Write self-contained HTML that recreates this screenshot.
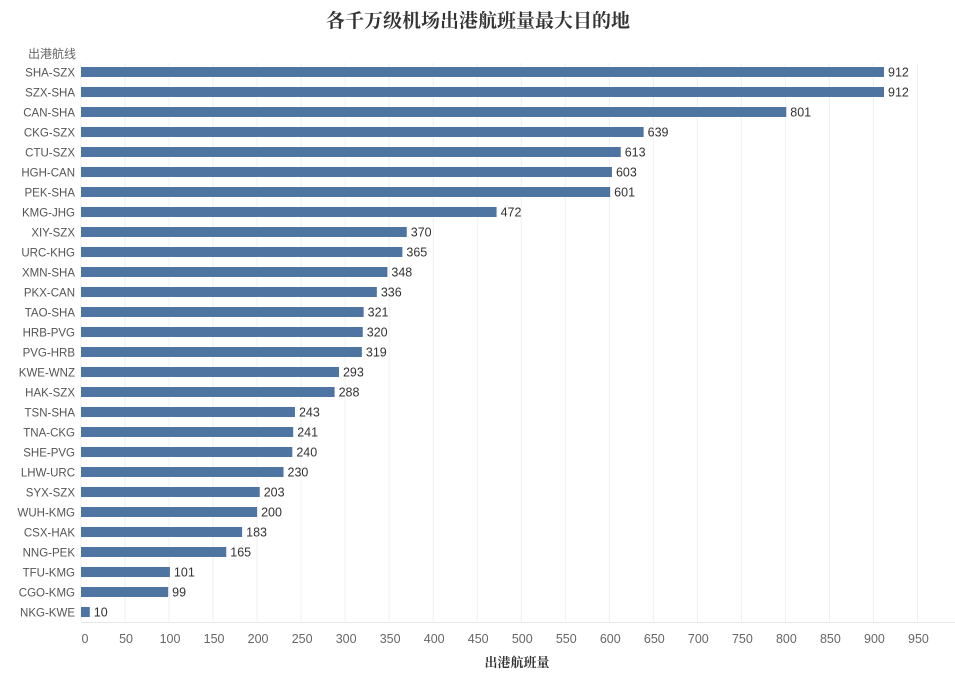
<!DOCTYPE html>
<html><head><meta charset="utf-8">
<style>
body{margin:0;background:#fff;width:955px;height:678px;overflow:hidden}
svg text{font-family:"Liberation Sans","Noto Sans CJK SC",sans-serif}
</style></head><body>
<svg id="chart" width="955" height="678" xmlns="http://www.w3.org/2000/svg">
<text x="478" y="27" text-anchor="middle" font-size="19" font-weight="bold" fill="#333" style="font-family:'Noto Serif CJK SC',serif">各千万级机场出港航班量最大目的地</text>
<text x="28" y="58" font-size="12" fill="#666">出港航线</text>
<text x="517" y="667" text-anchor="middle" font-size="13" font-weight="bold" fill="#333" style="font-family:'Noto Serif CJK SC',serif">出港航班量</text>
<g id="grid"></g><g id="bars"></g><g id="xticks"></g>
</svg>
<script>
const categories=["SHA-SZX","SZX-SHA","CAN-SHA","CKG-SZX","CTU-SZX","HGH-CAN","PEK-SHA","KMG-JHG","XIY-SZX","URC-KHG","XMN-SHA","PKX-CAN","TAO-SHA","HRB-PVG","PVG-HRB","KWE-WNZ","HAK-SZX","TSN-SHA","TNA-CKG","SHE-PVG","LHW-URC","SYX-SZX","WUH-KMG","CSX-HAK","NNG-PEK","TFU-KMG","CGO-KMG","NKG-KWE"];
const values=[912,912,801,639,613,603,601,472,370,365,348,336,321,320,319,293,288,243,241,240,230,203,200,183,165,101,99,10];
const tickLabels=[0,50,100,150,200,250,300,350,400,450,500,550,600,650,700,750,800,850,900,950];
const NS="http://www.w3.org/2000/svg";
const x=v=>81+v*0.8805;
const y=i=>72+i*20;
function mk(t,a,p){const e=document.createElementNS(NS,t);for(const k in a)e.setAttribute(k,a[k]);p.appendChild(e);return e;}
const grid=document.getElementById('grid'),bars=document.getElementById('bars'),xt=document.getElementById('xticks');
tickLabels.forEach(t=>{
 const l=mk('line',{x1:x(t),x2:x(t),y1:63,y2:622,stroke:'#f0f0f0','stroke-width':1},grid);
 
 
 const tx=mk('text',{x:x(t)+(t===0?4:1),y:643,'text-anchor':'middle','font-size':12.5,fill:'#666'},xt);
 tx.textContent=t;
 
 
});
const ax=mk('line',{x1:81,x2:955,y1:622.5,y2:622.5,stroke:'#e6e6e6'},grid);


categories.forEach((c,i)=>{
 const lb=mk('text',{x:75,y:y(i)+4.5,'text-anchor':'end','font-size':11.5,fill:'#555'},bars);
 lb.textContent=c;
 
 
 const r=mk('rect',{x:81,y:y(i)-5,width:x(values[i])-81,height:10,fill:'#4e74a2'},bars);
 
 
 const v=mk('text',{x:x(values[i])+4,y:y(i)+4.5,'font-size':12.5,fill:'#333'},bars);
 v.textContent=values[i];
 
 
});
</script>
</body></html>
